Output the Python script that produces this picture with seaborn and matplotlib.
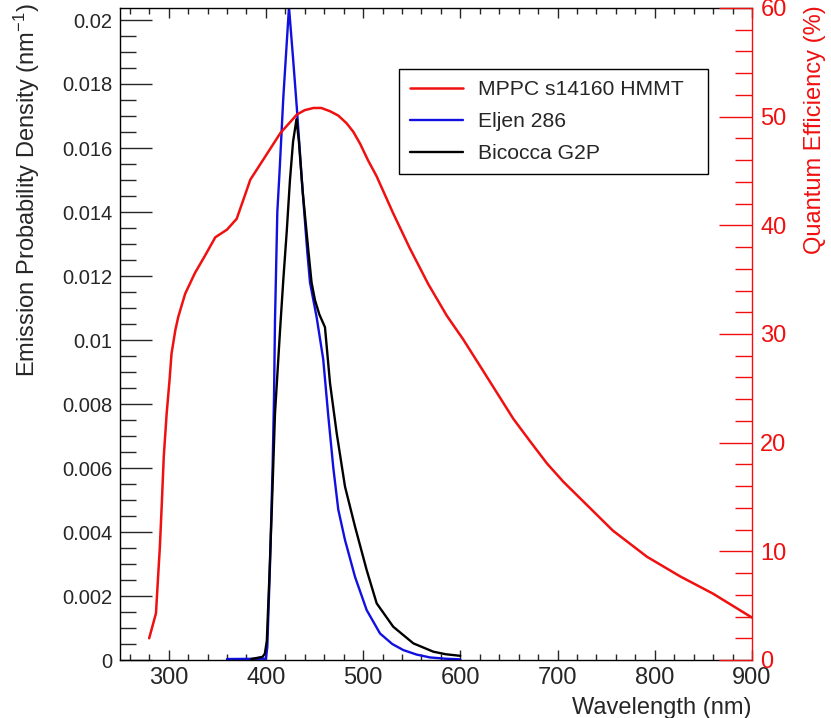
import numpy as np
import pandas as pd
import matplotlib
matplotlib.use("Agg")
import matplotlib.pyplot as plt
from matplotlib.ticker import MultipleLocator, FuncFormatter
import seaborn as sns

# MPPC quantum efficiency (right axis, %)
qe_wl = [280, 287, 289, 291, 293, 295, 298, 301, 303, 307, 310, 317, 327, 338, 348,
         360, 370, 379, 384, 397, 415, 432, 440, 449, 457, 466, 474.5, 483, 490, 497,
         505, 514, 522.5, 531, 548, 567, 586, 603, 620, 654.5, 672, 689, 706, 723,
         757, 792, 809, 826, 860, 900]
qe_val = [2.0, 4.3, 7.4, 10.4, 14.4, 18.7, 22.7, 25.8, 28.2, 30.4, 31.6, 33.7, 35.6, 37.3, 38.9,
          39.6, 40.6, 42.9, 44.2, 46.0, 48.5, 50.2, 50.6, 50.8, 50.8, 50.5, 50.1, 49.4, 48.6, 47.5,
          46.0, 44.5, 42.8, 41.1, 37.9, 34.6, 31.7, 29.5, 27.1, 22.2, 20.1, 18.1, 16.4, 14.9,
          11.9, 9.5, 8.6, 7.7, 6.1, 3.9]

# Eljen 286 emission (left axis)
ej_wl = [360, 400, 401.5, 404.3, 407, 408.4, 409.4, 411.8, 414, 418, 423.8, 428, 432, 437,
         442.5, 445.4, 452.3, 459, 464.3, 469.4, 474.5, 481.4, 491.7, 503.7, 517.4, 530,
         541.4, 555, 568.8, 585, 600]
ej_val = [0.00003, 0.00004, 0.0004, 0.0030, 0.0061, 0.0082, 0.0106, 0.0140, 0.0152, 0.0176,
          0.0204, 0.0188, 0.0172, 0.0150, 0.0128, 0.0118, 0.0107, 0.0094, 0.0076, 0.0060,
          0.0047, 0.00375, 0.0026, 0.00156, 0.00083, 0.0005, 0.00031, 0.00017, 0.00008,
          0.00004, 0.00002]

# Bicocca G2P emission (left axis)
bg_wl = [385, 396.7, 399, 401, 403.5, 406, 409.4, 414.6, 418, 421.5, 424.8, 428, 431.5, 434,
         438, 443.7, 447, 450.5, 455, 460.8, 466, 472.9, 481.4, 491.7, 503.7, 514, 531,
         551.7, 572.2, 585, 600]
bg_val = [0.00003, 0.0001, 0.0002, 0.0006, 0.0025, 0.0046, 0.0077, 0.0103, 0.0119, 0.0134,
          0.0150, 0.0162, 0.0169, 0.0162, 0.0146, 0.0128, 0.0118, 0.01125, 0.0108, 0.0104,
          0.00865, 0.00708, 0.00542, 0.00417, 0.00281, 0.00177, 0.00104, 0.00052, 0.00026,
          0.00018, 0.00013]

RED = '#f01010'
BLUE = '#1010e0'

sns.set_style("ticks")
plt.rcParams['font.family'] = ['Liberation Sans', 'DejaVu Sans']
plt.rcParams['mathtext.fontset'] = 'custom'
plt.rcParams['mathtext.rm'] = 'Liberation Sans'
plt.rcParams['mathtext.it'] = 'Liberation Sans:italic'

fig = plt.figure(figsize=(8.31, 7.18), dpi=100)
ax = fig.add_axes([120/831, 1-660/718, 632/831, 652/718])
ax2 = ax.twinx()

df_ej = pd.DataFrame({'wl': ej_wl, 'val': ej_val})
df_bg = pd.DataFrame({'wl': bg_wl, 'val': bg_val})
df_qe = pd.DataFrame({'wl': qe_wl, 'val': qe_val})

sns.lineplot(data=df_ej, x='wl', y='val', ax=ax, color=BLUE, lw=1.7, sort=False,
             estimator=None, label='Eljen 286', legend=False)
sns.lineplot(data=df_bg, x='wl', y='val', ax=ax, color='black', lw=1.7, sort=False,
             estimator=None, label='Bicocca G2P', legend=False)
sns.lineplot(data=df_qe, x='wl', y='val', ax=ax2, color=RED, lw=1.8, sort=False,
             estimator=None, label='MPPC s14160 HMMT', legend=False)

ax.set_xlim(250, 900)
ax.set_ylim(0, 0.020375)
ax2.set_ylim(0, 60)
ax.set_xlabel('')
ax.set_ylabel('')
ax2.set_xlabel('')
ax2.set_ylabel('')

ax.xaxis.set_major_locator(MultipleLocator(100))
ax.xaxis.set_minor_locator(MultipleLocator(20))
ax.yaxis.set_major_locator(MultipleLocator(0.002))
ax.yaxis.set_minor_locator(MultipleLocator(0.0005))
ax.yaxis.set_major_formatter(FuncFormatter(lambda v, p: f"{round(v, 6):g}"))
ax2.yaxis.set_major_locator(MultipleLocator(10))
ax2.yaxis.set_minor_locator(MultipleLocator(2))

ax.tick_params(axis='x', which='both', direction='in', top=True, bottom=True,
               labelsize=17, pad=5, width=1)
ax.tick_params(axis='x', which='major', length=7.5)
ax.tick_params(axis='x', which='minor', length=4.5)
ax.tick_params(axis='y', which='both', direction='in', left=True, right=False,
               labelsize=14.5, pad=5.5, width=1)
ax.tick_params(axis='y', which='major', length=23)
ax.tick_params(axis='y', which='minor', length=11.5)
ax2.tick_params(axis='y', which='both', direction='in', colors=RED,
                labelsize=17, pad=6, width=1)
ax2.tick_params(axis='y', which='major', length=24)
ax2.tick_params(axis='y', which='minor', length=12)

for s in ['left', 'top', 'bottom']:
    ax.spines[s].set_linewidth(1)
    ax.spines[s].set_color('black')
    ax2.spines[s].set_visible(False)
ax.spines['right'].set_visible(False)
ax2.spines['right'].set_color(RED)
ax2.spines['right'].set_linewidth(1)

fig.text(27/831, 1-3/718, 'Emission Probability Density (nm$^{-1}$)', rotation=90,
         ha='center', va='top', fontsize=17)
fig.text(815/831, 1-5/718, 'Quantum Efficiency (%)', rotation=90,
         ha='center', va='top', fontsize=17, color=RED)
fig.text(752/831, 1-714/718, 'Wavelength (nm)', ha='right', va='baseline', fontsize=17)

h1, l1 = ax2.get_legend_handles_labels()
h2, l2 = ax.get_legend_handles_labels()
leg = ax2.legend(h1 + h2, l1 + l2, loc='upper left', mode='expand',
                 bbox_to_anchor=(399/831, 1-177/718, 309/831, 108/718),
                 bbox_transform=fig.transFigure,
                 fontsize=15.2, frameon=True, fancybox=False, framealpha=1,
                 edgecolor='black', handlelength=2.5, handletextpad=0.7,
                 labelspacing=0.62, borderpad=0.52, borderaxespad=0)
leg.get_frame().set_linewidth(1)

fig.savefig('out.png', dpi=100)
